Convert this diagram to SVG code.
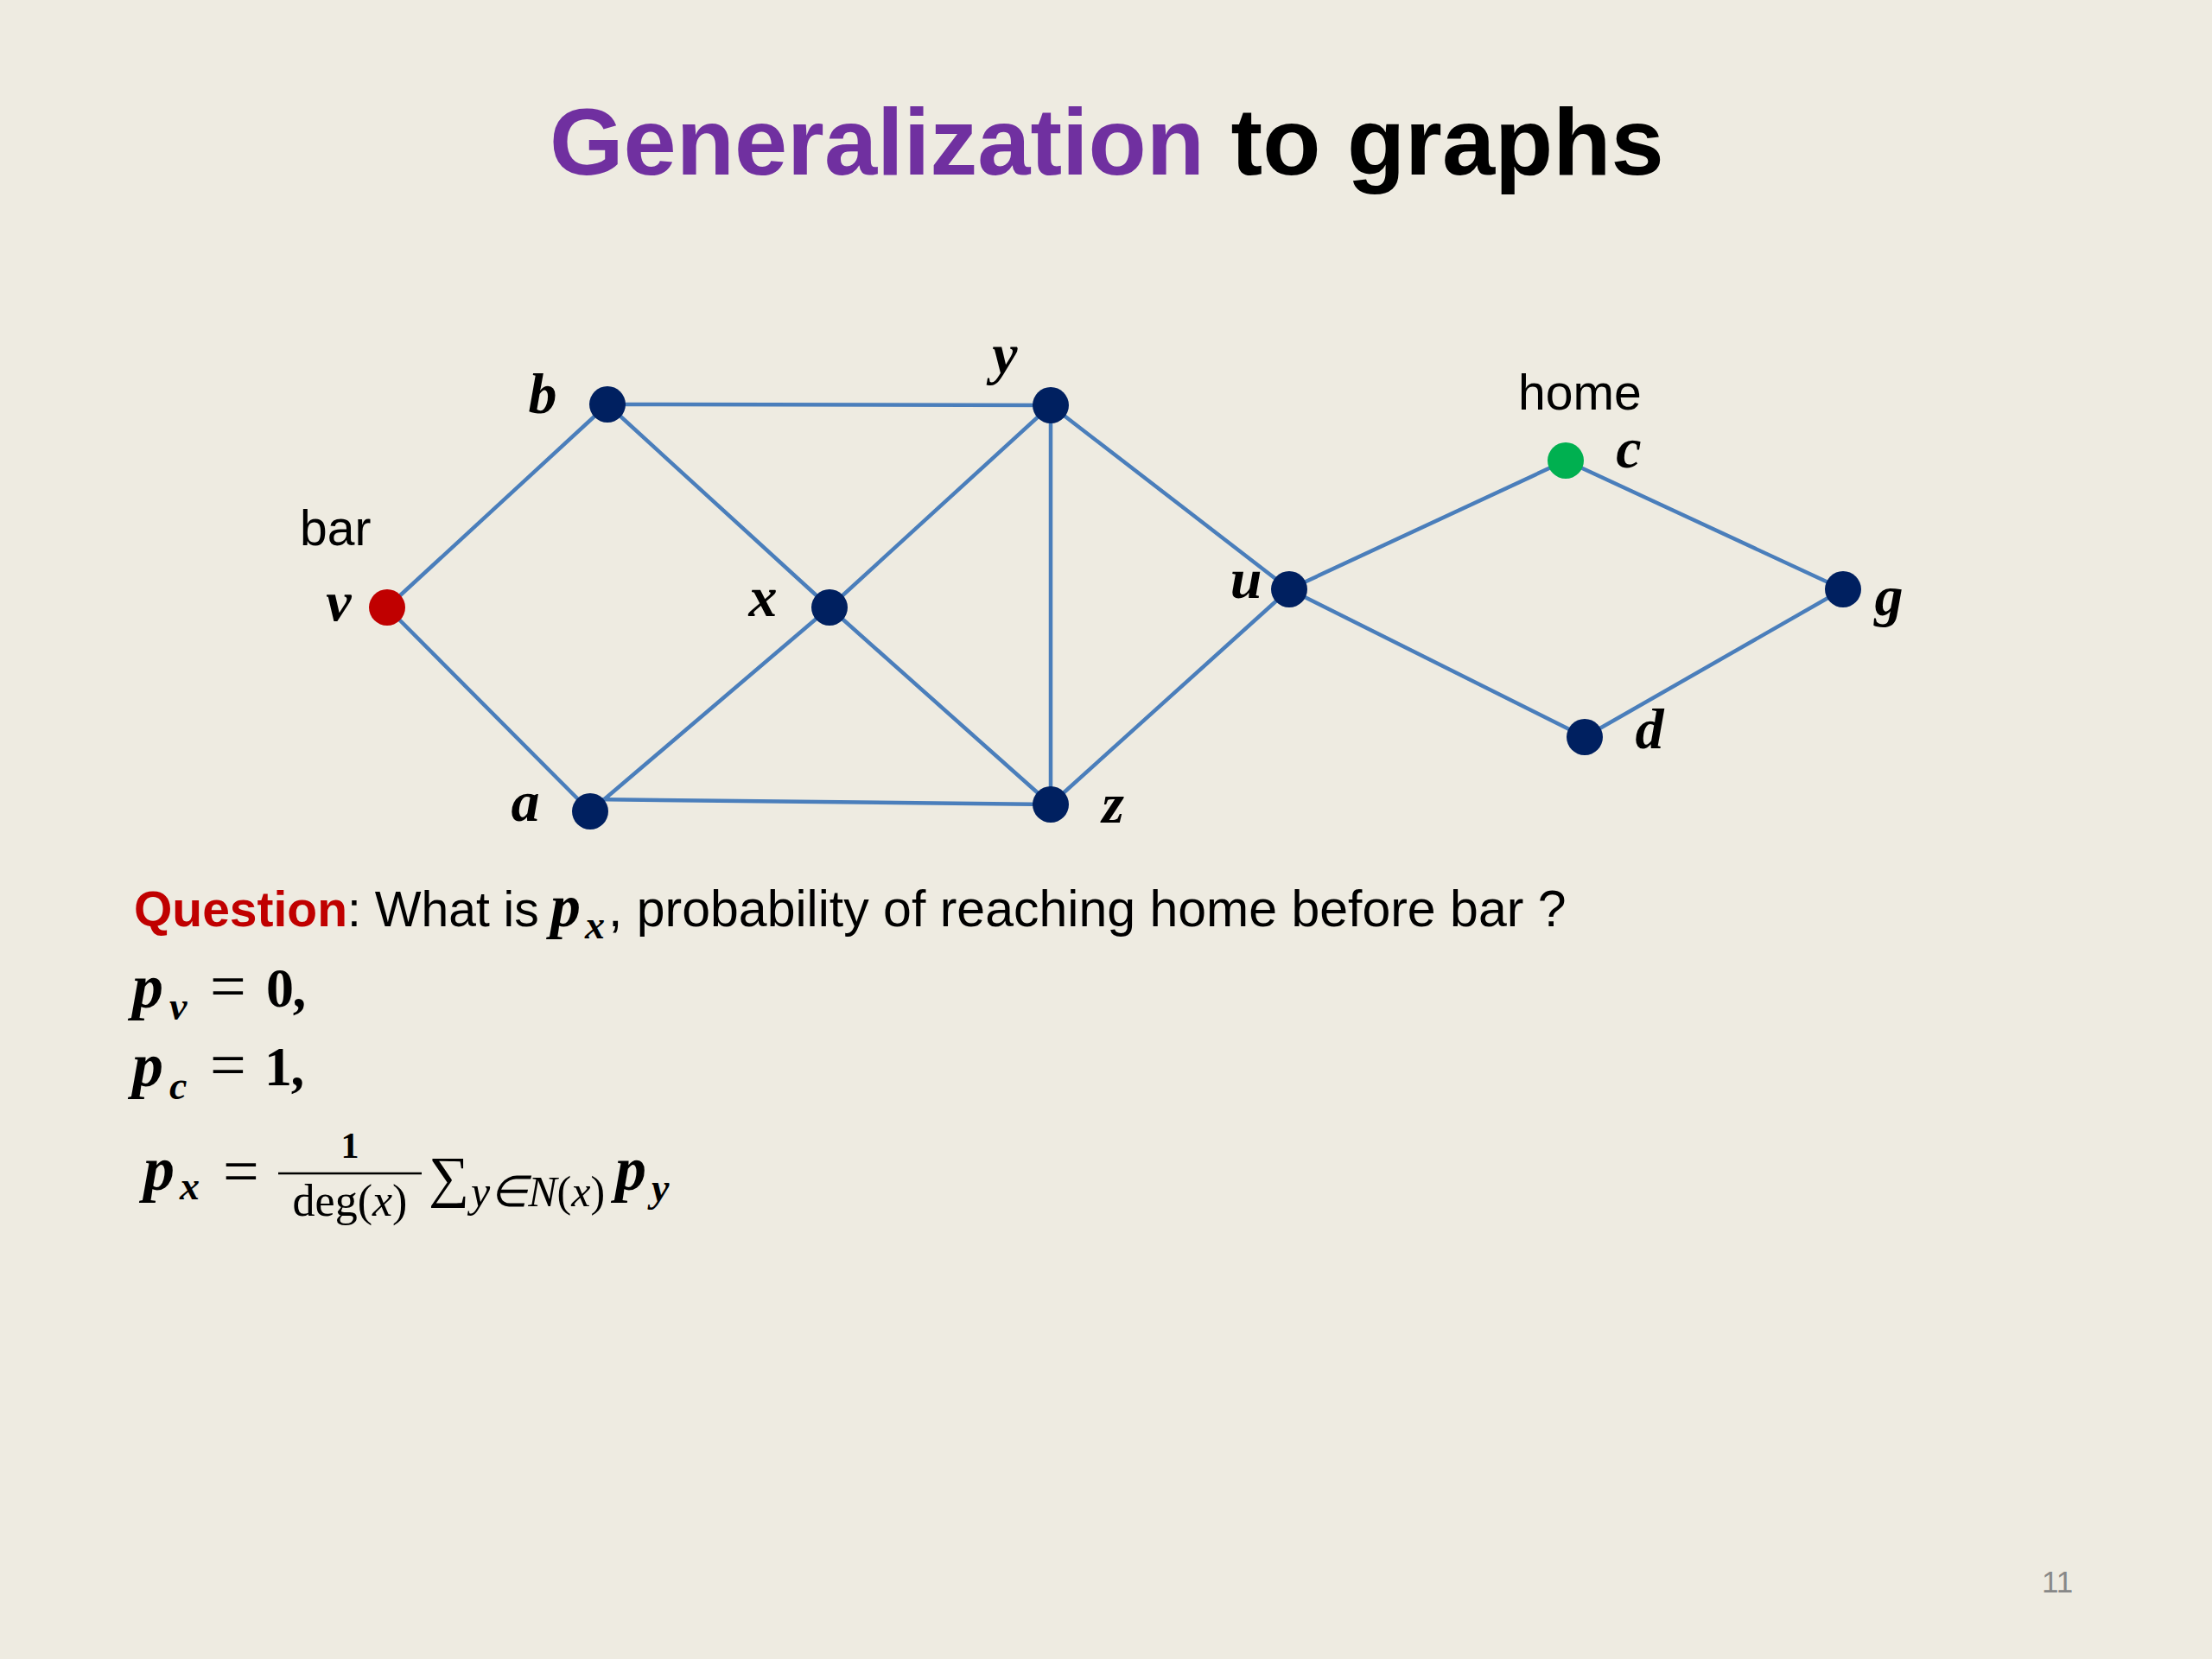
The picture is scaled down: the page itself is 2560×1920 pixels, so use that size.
<svg xmlns="http://www.w3.org/2000/svg" width="2560" height="1920" viewBox="0 0 2560 1920">
<style>
.edge{stroke:#4A7EBB;stroke-width:4.5;fill:none}
.node{fill:#002060}
.lbl{font-family:"Liberation Serif","Times New Roman",serif;font-style:italic;font-weight:bold;font-size:66px;fill:#000;text-anchor:middle}
.txt{font-family:"Liberation Sans",Arial,sans-serif;font-size:57px;fill:#000}
.q{font-family:"Liberation Sans",Arial,sans-serif;font-size:59px;fill:#000}
.m{font-family:"Liberation Serif","Times New Roman",serif;font-style:italic;font-weight:bold;fill:#000}
.mr{font-family:"Liberation Serif","Times New Roman",serif;fill:#000}
</style>
<rect width="2560" height="1920" fill="#EEEBE1"/>
<text x="636" y="202" font-family="Liberation Sans,Arial,sans-serif" font-weight="bold" font-size="110"><tspan fill="#7030A0">Generalization</tspan><tspan fill="#000"> to graphs</tspan></text>
<g id="connectors">
<line class="edge" x1="703" y1="468" x2="1216" y2="469"/>
<line class="edge" x1="703" y1="468" x2="448" y2="703"/>
<line class="edge" x1="703" y1="468" x2="960" y2="703"/>
<line class="edge" x1="448" y1="703" x2="683" y2="939"/>
<line class="edge" x1="683" y1="939" x2="960" y2="703"/>
<line class="edge" x1="683" y1="925" x2="1216" y2="931"/>
<line class="edge" x1="960" y1="703" x2="1216" y2="469"/>
<line class="edge" x1="960" y1="703" x2="1216" y2="931"/>
<line class="edge" x1="1216" y1="469" x2="1216" y2="931"/>
<line class="edge" x1="1216" y1="469" x2="1492" y2="682"/>
<line class="edge" x1="1216" y1="931" x2="1492" y2="682"/>
<line class="edge" x1="1492" y1="682" x2="1812" y2="533"/>
<line class="edge" x1="1492" y1="682" x2="1834" y2="853"/>
<line class="edge" x1="1812" y1="533" x2="2133" y2="682"/>
<line class="edge" x1="1834" y1="853" x2="2133" y2="682"/>
</g>
<g id="node-b"><circle class="node" cx="703" cy="468" r="21"/><text class="lbl" x="628" y="478">b</text></g>
<g id="node-y"><circle class="node" cx="1216" cy="469" r="21"/><text class="lbl" x="1163" y="432">y</text></g>
<g id="node-v"><circle cx="448" cy="703" r="21" fill="#C00000"/><text class="lbl" x="392" y="718">v</text><text class="txt" x="347" y="631">bar</text></g>
<g id="node-x"><circle class="node" cx="960" cy="703" r="21"/><text class="lbl" x="883" y="713">x</text></g>
<g id="node-a"><circle class="node" cx="683" cy="939" r="21"/><text class="lbl" x="608" y="950">a</text></g>
<g id="node-z"><circle class="node" cx="1216" cy="931" r="21"/><text class="lbl" x="1288" y="952">z</text></g>
<g id="node-u"><circle class="node" cx="1492" cy="682" r="21"/><text class="lbl" x="1442" y="692">u</text></g>
<g id="node-c"><circle cx="1812" cy="533" r="21" fill="#00B050"/><text class="lbl" x="1885" y="541" font-size="62">c</text><text class="txt" x="1757" y="474">home</text></g>
<g id="node-g"><circle class="node" cx="2133" cy="682" r="21"/><text class="lbl" x="2186" y="712">g</text></g>
<g id="node-d"><circle class="node" cx="1834" cy="853" r="21"/><text class="lbl" x="1909" y="866">d</text></g>
<g id="question">
<text class="txt" x="155" y="1072"><tspan fill="#C00000" font-weight="bold">Question</tspan>: What is</text>
<text class="m" x="637" y="1072" font-size="70">p</text>
<text class="m" x="677" y="1086" font-size="46">x</text>
<text class="q" x="704" y="1072">, probability of reaching home before bar ?</text>
</g>
<g id="formulas">
<text class="m" x="153" y="1166" font-size="72">p</text>
<text class="m" x="196" y="1180" font-size="46">v</text>
<text class="mr" x="243" y="1166" font-size="74">=</text>
<text class="mr" x="308" y="1165" font-size="64" font-weight="bold">0</text>
<text class="m" x="341" y="1165" font-size="64">,</text>
<text class="m" x="153" y="1257" font-size="72">p</text>
<text class="m" x="196" y="1272" font-size="46">c</text>
<text class="mr" x="243" y="1257" font-size="74">=</text>
<text class="mr" x="306" y="1256" font-size="64" font-weight="bold">1</text>
<text class="m" x="339" y="1256" font-size="64">,</text>
<text class="m" x="166" y="1377" font-size="72">p</text>
<text class="m" x="208" y="1388" font-size="46">x</text>
<text class="mr" x="258" y="1380" font-size="74">=</text>
<line x1="322" y1="1358" x2="488" y2="1358" stroke="#000" stroke-width="2.5"/>
<text class="mr" x="405" y="1340" font-size="42" font-weight="bold" text-anchor="middle">1</text>
<text class="mr" x="405" y="1407" font-size="52" text-anchor="middle">deg(<tspan font-style="italic">x</tspan>)</text>
<text class="mr" x="496" y="1384" font-size="66">∑</text>
<text class="mr" x="545" y="1396" font-size="50" font-style="italic">y∈N<tspan font-style="normal">(</tspan>x<tspan font-style="normal">)</tspan></text>
<text class="m" x="712" y="1377" font-size="72">p</text>
<text class="m" x="754" y="1390" font-size="46">y</text>
</g>
<text x="2363" y="1843" font-family="Liberation Sans,Arial,sans-serif" font-size="35" fill="#888888">11</text>
</svg>
